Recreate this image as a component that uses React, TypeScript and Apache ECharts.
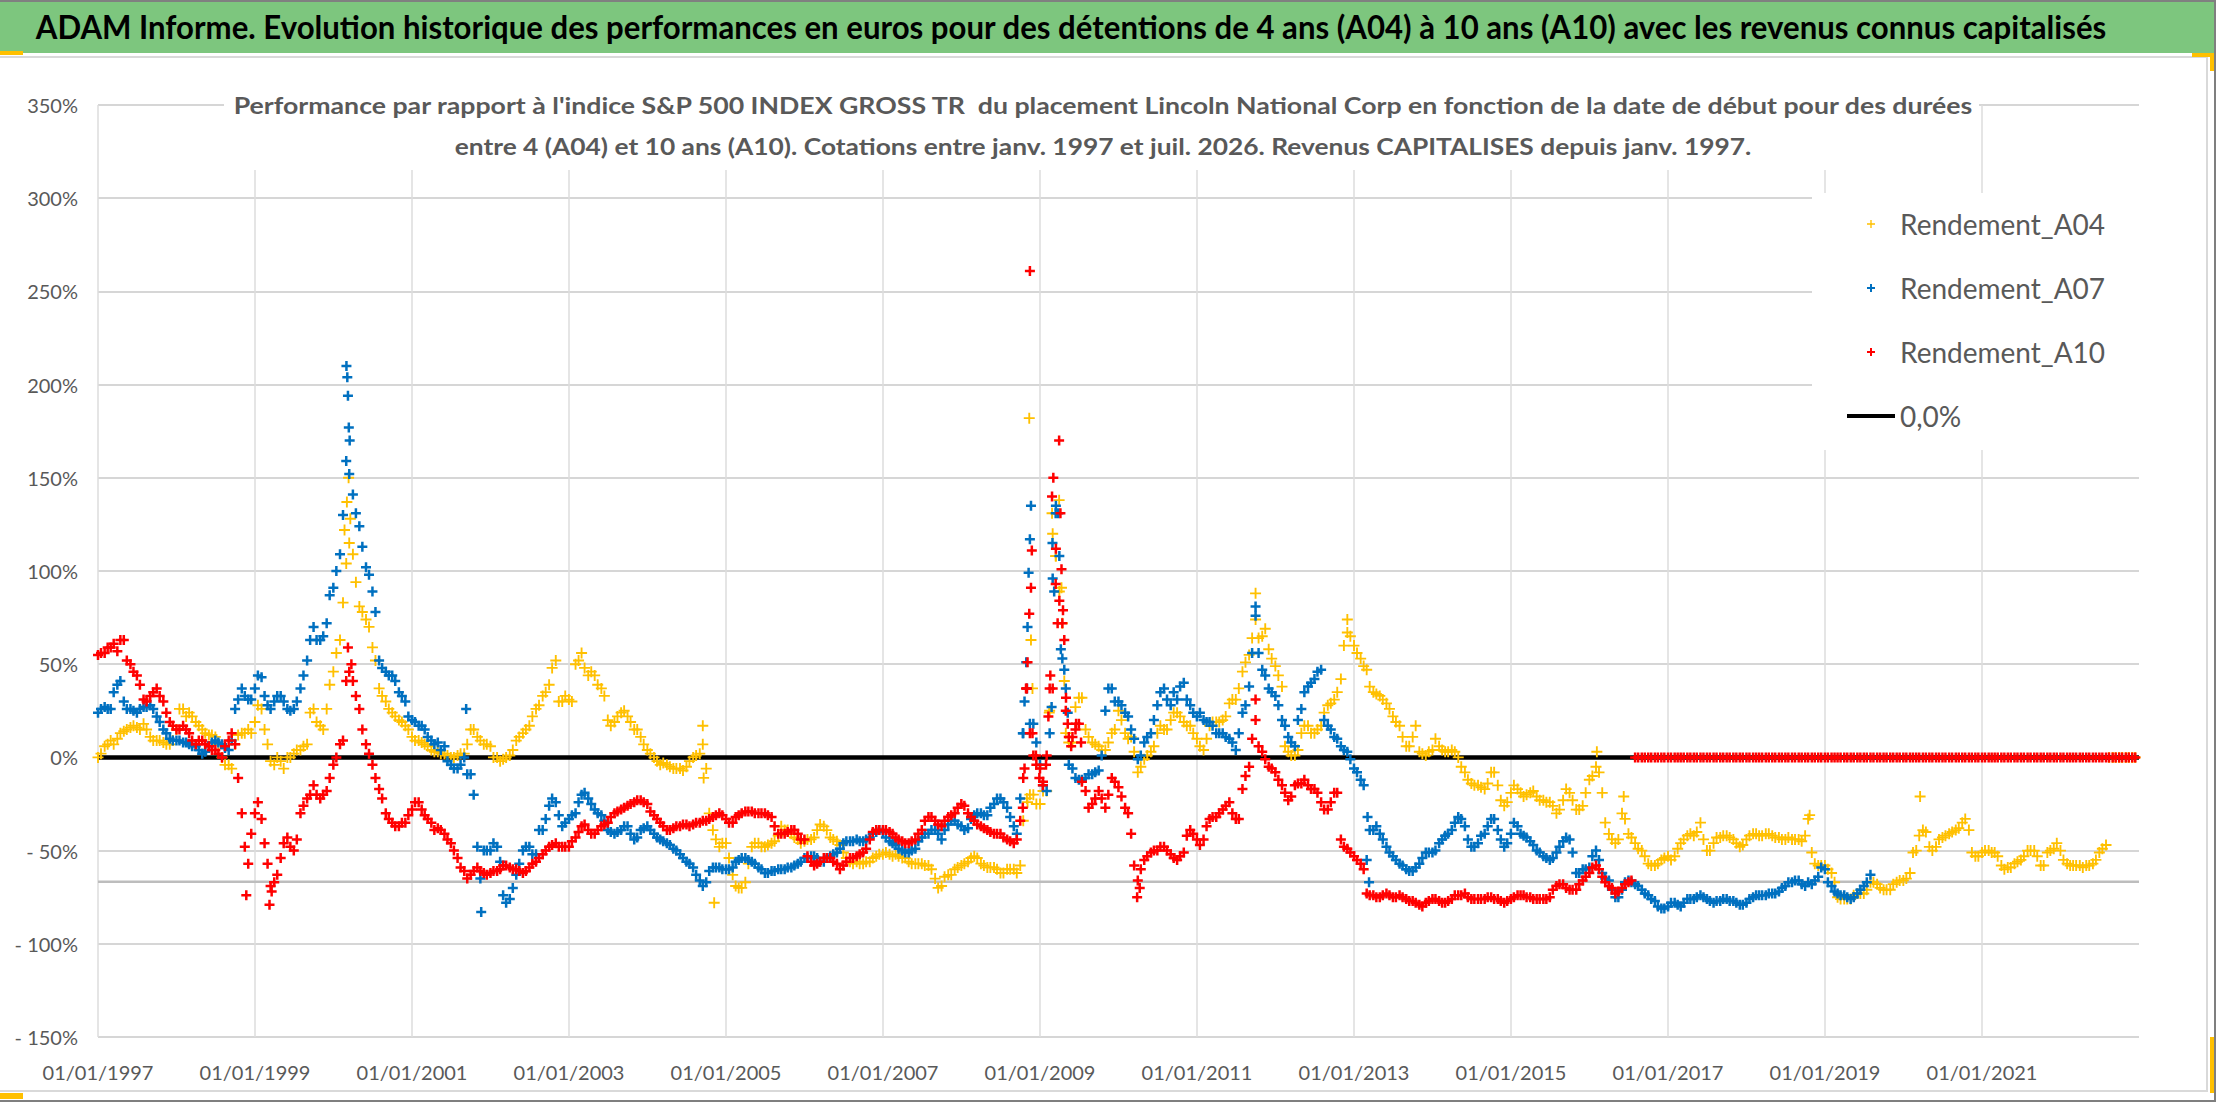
import React, { useEffect, useRef } from "react";
import * as echarts from "echarts";

// ---------- texts ----------
const TITLE =
  "ADAM Informe. Evolution historique des performances en euros pour des détentions de 4 ans (A04) à 10 ans (A10) avec les revenus connus capitalisés";
const SUBTITLE_1 =
  "Performance par rapport à l'indice S&P 500 INDEX GROSS TR  du placement Lincoln National Corp en fonction de la date de début pour des durées";
const SUBTITLE_2 =
  "entre 4 (A04) et 10 ans (A10). Cotations entre janv. 1997 et juil. 2026. Revenus CAPITALISES depuis janv. 1997.";

const SERIES_NAMES = ["Rendement_A04", "Rendement_A07", "Rendement_A10", "0,0%"];
const SERIES_COLORS = ["#FFC000", "#0070C0", "#FF0000", "#000000"];

// ---------- axes ----------
const X_FIRST_YEAR = 1997; // x axis origin: 01/01/1997
const X_SPAN_YEARS = 26; // up to 01/01/2023
const X_TICK_STEP = 2;
const Y_MIN = -150;
const Y_MAX = 350;
const Y_STEP = 50;
const ZERO_LINE = 0;
const GREY_LINE = -66.7;

// ---------- values on the 1st of each month, in % (from janv. 1997) ----------
const START = "1997-01";
const A04 = [
  0, 6, 9, 10, 14, 16, 16, 18, 11, 9, 8, 7,
  15, 26, 24, 19, 15, 12, 11, 0, -4, 7, 13, 15,
  19, 26, 7, -4, -2, 0, 2, 4, 7, 26, 17, 26,
  46, 63, 104, 109, 81, 74, 59, 37, 30, 24, 20, 17,
  11, 9, 7, 4, 3, 2, 0, 1, 2, 15, 11, 7,
  6, 0, -1, 1, 9, 13, 17, 26, 33, 39, 52, 30,
  31, 50, 56, 44, 44, 37, 20, 19, 24, 22, 15, 11,
  4, 0, -4, -4, -6, -6, -5, 0, 2, -6, -39, -48,
  -46, -63, -70, -67, -48, -46, -48, -46, -42, -39, -41, -44,
  -45, -44, -39, -37, -43, -45, -51, -56, -56, -57, -56, -53,
  -52, -52, -52, -54, -56, -57, -57, -58, -65, -69, -63, -60,
  -58, -56, -53, -57, -59, -59, -62, -60, -60, -58, -22, -20,
  -25, -18, 120, 89, 13, 8, 32, 15, 8, 6, 4, 13,
  25, 13, 11, -8, -1, 3, 13, 15, 20, 24, 19, 17,
  10, 4, 17, 19, 20, 29, 31, 46, 55, 74, 65, 58,
  49, 38, 3, 1, 13, 17, 13, 17, 28, 31, 42, 67,
  60, 53, 47, 35, 33, 29, 22, 17, 6, 11, 3, 1,
  4, 6, 3, 4, 0, -8, -14, -15, -17, -8, -15, -26,
  -19, -17, -21, -19, -21, -23, -24, -30, -23, -19, -28, -26,
  -12, -5, -19, -41, -46, -30, -41, -46, -50, -57, -58, -55,
  -53, -53, -46, -42, -42, -35, -50, -46, -43, -42, -44, -48,
  -44, -41, -42, -41, -42, -43, -44, -44, -44, -42, -51, -58,
  -58, -62, -75, -76, -76, -73, -73, -67, -68, -71, -71, -67,
  -66, -62, -50, -39, -48, -48, -43, -41, -39, -35, -39, -53,
  -51, -50, -51, -58, -59, -57, -55, -50, -50, -58, -51, -49,
  -50, -57, -58, -58, -58, -57, -51, -47, 0, 0, 0, 0,
];
const A07 = [
  24, 27, 26, 39, 30, 26, 24, 27, 28, 22, 15, 10,
  9, 8, 7, 6, 2, 6, 9, 7, 4, 26, 37, 31,
  37, 43, 28, 30, 33, 26, 26, 37, 52, 70, 63, 72,
  91, 109, 159, 141, 124, 102, 89, 52, 46, 44, 35, 30,
  20, 17, 15, 9, 8, 6, -4, -6, 0, -9, -48, -50,
  -50, -48, -74, -76, -63, -50, -48, -52, -39, -26, -24, -37,
  -33, -30, -20, -22, -28, -31, -39, -41, -39, -37, -44, -39,
  -37, -41, -44, -46, -49, -52, -56, -59, -66, -67, -59, -59,
  -60, -59, -55, -54, -56, -59, -62, -61, -60, -60, -59, -57,
  -54, -53, -54, -56, -53, -51, -46, -45, -44, -45, -43, -40,
  -40, -45, -47, -50, -51, -49, -43, -41, -39, -44, -36, -34,
  -37, -38, -31, -30, -31, -25, -22, -27, -37, -22, 37, 18,
  -4, -18, 96, 108, 37, -6, -12, -11, -9, -7, 25, 37,
  30, 24, 15, -1, 8, 13, 28, 37, 28, 31, 40, 28,
  22, 20, 19, 13, 13, 10, 4, 24, 38, 76, 47, 37,
  33, 20, 11, 6, 26, 38, 42, 47, 17, 11, 6, 3,
  -6, -12, -55, -39, -41, -48, -53, -57, -60, -61, -57, -51,
  -51, -46, -42, -39, -32, -37, -48, -46, -41, -33, -39, -48,
  -41, -37, -42, -45, -50, -53, -55, -51, -45, -44, -62, -60,
  -59, -50, -62, -66, -75, -71, -66, -68, -71, -74, -77, -81,
  -80, -78, -80, -76, -76, -74, -76, -78, -77, -76, -77, -79,
  -78, -75, -74, -74, -73, -72, -69, -67, -66, -69, -68, -64,
  -60, -69, -73, -74, -76, -73, -69, -63,
];
const A10 = [
  55, 56, 59, 57, 63, 50, 44, 31, 33, 37, 30, 19,
  15, 17, 13, 7, 9, 6, 4, 0, 9, 7, -30, -57,
  -30, -33, -57, -67, -54, -43, -50, -30, -22, -15, -22, -18,
  -4, 7, 41, 41, 26, 7, -4, -17, -30, -35, -37, -35,
  -28, -24, -31, -35, -38, -41, -46, -54, -61, -63, -59, -62,
  -62, -61, -58, -59, -60, -62, -59, -56, -52, -48, -46, -48,
  -48, -43, -37, -39, -41, -37, -35, -30, -28, -26, -24, -23,
  -25, -31, -35, -39, -38, -37, -36, -36, -35, -34, -32, -30,
  -33, -35, -31, -29, -29, -30, -30, -32, -41, -41, -39, -41,
  -44, -56, -57, -54, -54, -57, -58, -54, -53, -51, -44, -39,
  -39, -40, -43, -45, -46, -44, -39, -32, -34, -37, -32, -30,
  -25, -30, -34, -37, -39, -41, -41, -44, -46, -34, 37, 1,
  -6, 1, 37, 84, 25, 11, 18, -18, -25, -18, -27, -11,
  -16, -27, -41, -66, -55, -51, -50, -48, -52, -55, -51, -39,
  -44, -44, -33, -32, -28, -24, -33, -17, -5, 20, 3, -5,
  -8, -15, -23, -15, -14, -15, -17, -24, -28, -19, -44, -49,
  -53, -57, -73, -74, -75, -73, -75, -74, -76, -77, -79, -78,
  -76, -77, -78, -76, -74, -73, -76, -76, -76, -75, -76, -78,
  -76, -74, -74, -75, -76, -76, -75, -69, -68, -71, -71, -66,
  -62, -58, -64, -69, -73, -70, -67, 0, 0, 0, 0, 0,
  0, 0, 0, 0, 0, 0, 0, 0, 0, 0, 0, 0,
  0, 0, 0, 0, 0, 0, 0, 0, 0, 0, 0, 0,
  0, 0, 0, 0, 0, 0, 0, 0, 0, 0, 0, 0,
  0, 0, 0, 0, 0, 0, 0, 0, 0, 0, 0, 0,
  0, 0, 0, 0, 0, 0, 0, 0, 0, 0, 0, 0,
  0, 0, 0, 0, 0, 0, 0, 0, 0, 0, 0, 0,
];

// ---------- values on the 15th of each month, in % (from janv. 1997) ----------
const A04_MID = [
  2, 7, 7, 13, 15, 17, 15, 15, 9, 9, 7, 9,
  26, 22, 22, 17, 13, 12, 7, -4, -6, 12, 13, 13,
  28, 15, -2, 0, -6, 0, 4, 6, 24, 19, 15, 39,
  56, 83, 115, 94, 78, 70, 52, 33, 26, 22, 19, 15,
  9, 8, 6, 3, 2, 1, 0, 2, 7, 15, 9, 7,
  0, -2, 0, 4, 11, 15, 22, 28, 35, 48, 30, 33,
  30, 52, 48, 46, 39, 33, 17, 22, 25, 19, 15, 7,
  2, -2, -3, -5, -6, -7, -2, 1, 7, -30, -44, -46,
  -54, -69, -70, -57, -46, -48, -47, -45, -37, -39, -43, -46,
  -44, -43, -36, -39, -44, -47, -54, -57, -57, -56, -54, -52,
  -51, -53, -53, -54, -57, -57, -58, -60, -70, -64, -63, -59,
  -57, -54, -54, -58, -59, -60, -62, -60, -62, -34, -20, -25,
  -18, 25, 108, 72, 8, 27, 32, 11, 7, 4, 8, 15,
  20, 10, 3, -5, 1, 6, 17, 15, 24, 22, 17, 13,
  6, 10, 19, 19, 22, 31, 37, 51, 64, 64, 69, 53,
  44, 6, 1, 4, 17, 13, 15, 24, 29, 35, 60, 65,
  56, 49, 38, 34, 31, 26, 19, 11, 6, 17, 2, 3,
  10, 4, 3, 3, -5, -12, -15, -16, -14, -8, -23, -24,
  -15, -19, -20, -18, -23, -24, -26, -28, -17, -23, -28, -19,
  -10, -8, -35, -44, -44, -33, -43, -49, -53, -58, -57, -54,
  -55, -49, -44, -41, -40, -44, -50, -43, -42, -43, -46, -47,
  -42, -41, -42, -41, -43, -44, -43, -44, -45, -33, -57, -58,
  -60, -67, -76, -76, -74, -73, -71, -67, -70, -71, -68, -66,
  -65, -51, -42, -40, -50, -44, -42, -40, -38, -33, -51, -53,
  -50, -51, -53, -60, -59, -56, -53, -50, -53, -58, -50, -46,
  -55, -58, -58, -59, -58, -55, -49, 0, 0, 0, 0, 0,
];
const A07_MID = [
  26, 26, 35, 41, 26, 25, 26, 27, 26, 19, 13, 9,
  9, 8, 6, 4, 3, 8, 8, 5, 9, 31, 33, 31,
  44, 33, 26, 33, 30, 25, 30, 44, 63, 63, 65, 87,
  100, 130, 152, 131, 113, 98, 78, 48, 44, 41, 33, 22,
  19, 17, 11, 7, 4, -2, -6, -4, -9, -20, -65, -50,
  -46, -56, -78, -70, -57, -48, -52, -39, -33, -22, -31, -35,
  -31, -24, -19, -25, -30, -34, -40, -40, -37, -41, -43, -38,
  -39, -43, -45, -47, -50, -54, -57, -63, -69, -61, -59, -60,
  -60, -56, -54, -55, -57, -60, -62, -61, -60, -59, -58, -56,
  -54, -53, -56, -54, -52, -49, -45, -45, -45, -44, -41, -39,
  -43, -46, -49, -51, -50, -45, -41, -39, -41, -39, -34, -36,
  -39, -33, -30, -31, -27, -22, -24, -32, -41, 13, 18, 8,
  -15, 13, 131, 53, -4, -11, -12, -9, -8, 1, 37, 30,
  28, 22, 10, 1, 11, 20, 35, 31, 35, 38, 31, 24,
  24, 19, 17, 13, 11, 8, 13, 28, 56, 56, 44, 35,
  28, 17, 8, 20, 35, 40, 46, 20, 15, 10, 4, -1,
  -8, -15, -39, -37, -44, -51, -55, -58, -61, -59, -54, -51,
  -50, -44, -41, -35, -33, -44, -48, -42, -37, -33, -44, -46,
  -35, -41, -43, -47, -51, -54, -54, -48, -43, -51, -62, -60,
  -53, -55, -65, -71, -75, -67, -67, -69, -73, -76, -80, -81,
  -78, -79, -78, -76, -75, -75, -77, -77, -76, -77, -78, -79,
  -76, -74, -74, -73, -73, -70, -67, -66, -68, -67, -66, -59,
  -67, -72, -74, -75, -75, -71, -67,
];
const A10_MID = [
  56, 59, 61, 63, 52, 46, 39, 30, 35, 33, 24, 17,
  15, 15, 9, 9, 7, 4, 2, 6, 13, -11, -48, -41,
  -24, -46, -69, -63, -46, -48, -44, -26, -20, -20, -20, -11,
  0, 9, 46, 33, 15, 2, -11, -22, -33, -37, -35, -31,
  -24, -28, -33, -39, -39, -44, -50, -59, -65, -61, -61, -63,
  -61, -60, -58, -60, -61, -61, -57, -54, -50, -47, -48, -48,
  -45, -40, -36, -41, -39, -36, -32, -29, -27, -25, -23, -24,
  -29, -33, -37, -39, -37, -36, -37, -35, -34, -33, -31, -31,
  -35, -32, -30, -29, -30, -30, -31, -37, -41, -40, -39, -44,
  -53, -58, -56, -54, -56, -60, -56, -54, -52, -49, -40, -39,
  -39, -41, -44, -46, -45, -41, -34, -32, -36, -34, -31, -27,
  -26, -32, -36, -38, -40, -41, -43, -45, -44, -11, 13, -4,
  -13, 37, 93, 72, 11, 15, -13, -27, -22, -22, -20, -13,
  -21, -30, -58, -60, -53, -50, -48, -50, -54, -53, -42, -41,
  -47, -37, -32, -30, -26, -30, -33, -10, 10, 6, -1, -6,
  -12, -19, -21, -14, -12, -17, -19, -28, -24, -19, -48, -51,
  -55, -60, -74, -75, -74, -74, -75, -75, -77, -78, -80, -77,
  -76, -78, -77, -74, -74, -75, -76, -76, -75, -76, -77, -77,
  -75, -74, -75, -76, -76, -76, -71, -68, -70, -71, -68, -64,
  -59, -60, -67, -70, -72, -68, -66, 0, 0, 0, 0, 0,
  0, 0, 0, 0, 0, 0, 0, 0, 0, 0, 0, 0,
  0, 0, 0, 0, 0, 0, 0, 0, 0, 0, 0, 0,
  0, 0, 0, 0, 0, 0, 0, 0, 0, 0, 0, 0,
  0, 0, 0, 0, 0, 0, 0, 0, 0, 0, 0, 0,
  0, 0, 0, 0, 0, 0, 0, 0, 0, 0, 0, 0,
  0, 0, 0, 0, 0, 0, 0, 0, 0, 0, 0, 0,
];

// ---------- isolated daily points (spikes / outliers) ----------
const A04_EXTRA: [string, number][] = [
  ["2000-02-22", 122], ["2000-03-04", 137], ["2000-03-12", 150], ["2000-03-20", 128],
  ["2004-09-15", 17], ["2004-09-19", -11], ["2004-11-07", -78],
  ["2008-11-04", -24], ["2008-11-12", 182], ["2008-11-20", 63], ["2008-11-27", 37],
  ["2009-02-13", 24], ["2009-02-26", 131], ["2009-03-16", 108], ["2009-03-31", 138],
  ["2009-04-11", 91], ["2009-04-24", 41],
  ["2011-10-01", 88], ["2012-12-01", 74],
  ["2016-02-05", 3], ["2016-06-09", -21],
  ["2018-10-22", -31], ["2020-03-19", -21],
];
const A07_EXTRA: [string, number][] = [
  ["2000-03-02", 210], ["2000-03-06", 204], ["2000-03-09", 194], ["2000-03-13", 177], ["2000-03-17", 170],
  ["2001-09-10", 26], ["2001-11-19", -83],
  ["2008-10-13", 13], ["2008-10-21", 30], ["2008-10-29", 51], ["2008-11-04", 70], ["2008-11-09", 99],
  ["2008-11-15", 117], ["2008-11-20", 135],
  ["2009-02-24", 27], ["2009-02-28", 115], ["2009-03-08", 89], ["2009-03-16", 135], ["2009-03-27", 131],
  ["2009-04-08", 58], ["2009-04-24", 47], ["2009-05-10", 24],
  ["2011-10-01", 81],
  ["2013-03-05", -32], ["2013-03-12", -67],
];
const A10_EXTRA: [string, number][] = [
  ["1998-11-22", -74], ["1999-03-10", -79], ["1999-03-20", -72], ["2000-03-09", 59], ["2000-03-25", 50],
  ["2008-10-13", -27], ["2008-10-21", -6], ["2008-10-28", 37], ["2008-11-04", 51], ["2008-11-12", 77],
  ["2008-11-15", 261], ["2008-11-20", 91], ["2008-11-24", 111], ["2008-11-27", 13], ["2008-12-13", 1],
  ["2008-12-29", -11], ["2009-01-14", -15], ["2009-01-29", -4], ["2009-02-09", 22], ["2009-02-18", 44],
  ["2009-02-26", 140], ["2009-03-04", 150], ["2009-03-16", 112], ["2009-03-24", 72], ["2009-03-31", 170],
  ["2009-04-06", 131], ["2009-04-11", 101], ["2009-04-18", 79], ["2009-04-24", 63], ["2009-05-02", 32],
  ["2009-05-10", 18], ["2009-05-26", 6], ["2009-06-18", 18], ["2009-07-11", 8],
  ["2010-03-29", -75], ["2010-04-10", -70],
  ["2011-10-01", 31],
];

// ---------- helpers ----------
const ORIGIN = Date.UTC(X_FIRST_YEAR, 0, 1);
const YEAR_MS = 365.25 * 86400000;
const dateToX = (y: number, m: number, d: number) => (Date.UTC(y, m, d) - ORIGIN) / YEAR_MS;

function monthlyPoints(start: string, values: number[], day: number) {
  const [sy, sm] = start.split("-").map(Number);
  return values.map((v, i) => {
    const idx = sm - 1 + i;
    return [dateToX(sy + Math.floor(idx / 12), idx % 12, day), v];
  });
}
function extraPoints(list: [string, number][]) {
  return list.map(([d, v]) => {
    const [y, m, dd] = d.split("-").map(Number);
    return [dateToX(y, m - 1, dd), v];
  });
}

const PLUS_BOLD = "path://M3.75,0H6.25V3.75H10V6.25H6.25V10H3.75V6.25H0V3.75H3.75Z";
const PLUS_THIN = "path://M4.15,0H5.85V4.15H10V5.85H5.85V10H4.15V5.85H0V4.15H4.15Z";
const LINE_ICON = "path://M0,0H48V4H0Z";

const FONT = "Lato, 'Open Sans', sans-serif";

function fitScale(text: string, font: string, target: number) {
  const ctx = document.createElement("canvas").getContext("2d");
  if (!ctx) return 1;
  ctx.font = font;
  const w = ctx.measureText(text).width;
  return w > 0 ? target / w : 1;
}

export default function App() {
  const ref = useRef<HTMLDivElement>(null);

  useEffect(() => {
    if (!ref.current) return;
    const chart = echarts.init(ref.current, null, { renderer: "svg" });

    const sxTitle = fitScale(TITLE, "bold 32px Lato", 2072);
    const sxSub1 = fitScale(SUBTITLE_1, "bold 23px Lato", 1743);
    const sxSub2 = fitScale(SUBTITLE_2, "bold 23px Lato", 1298);

    const scatter = (name: string, color: string, symbol: string, size: number, pts: number[][]) => ({
      name,
      type: "scatter",
      data: pts,
      symbol,
      symbolSize: size,
      itemStyle: { color, opacity: 1 },
      z: 3,
      silent: true,
    });

    const textEl = (text: string, x: number, y: number, sx: number, size: number, fill: string, z: number) => ({
      type: "text",
      x,
      y,
      scaleX: sx,
      z,
      style: {
        text,
        fill,
        fontSize: size,
        fontWeight: "bold",
        fontFamily: "Lato",
        textAlign: "center",
        textVerticalAlign: "middle",
      },
    });
    const box = (x: number, y: number, w: number, h: number, fill: string, z: number) => ({
      type: "rect",
      shape: { x, y, width: w, height: h },
      style: { fill },
      z,
    });

    const option: any = {
      animation: false,
      backgroundColor: "#ffffff",
      textStyle: { fontFamily: FONT },
      grid: { left: 98, top: 105, right: 77, bottom: 65, containLabel: false, outerBoundsMode: "none" },
      xAxis: {
        type: "value",
        min: 0,
        max: X_SPAN_YEARS,
        interval: X_TICK_STEP,
        axisLine: { show: false },
        axisTick: { show: false },
        axisLabel: {
          formatter: (v: number) => "01/01/" + (X_FIRST_YEAR + v),
          fontSize: 20,
          fontFamily: FONT,
          color: "#595959",
          margin: 25,
          showMaxLabel: false,
        },
        splitLine: { show: true, showMaxLine: false, lineStyle: { color: "#DCDCDC", width: 1.5 } },
      },
      yAxis: {
        type: "value",
        min: Y_MIN,
        max: Y_MAX,
        interval: Y_STEP,
        axisLine: { show: false },
        axisTick: { show: false },
        axisLabel: {
          formatter: (v: number) => (v < 0 ? "- " + Math.abs(v) + "%" : v + "%"),
          fontSize: 20,
          fontFamily: FONT,
          color: "#595959",
          margin: 20,
        },
        splitLine: { show: true, lineStyle: { color: "#D6D6D6", width: 2 } },
      },
      legend: {
        orient: "vertical",
        left: 1812,
        top: 193,
        itemWidth: 48,
        itemHeight: 8,
        itemGap: 30,
        padding: [14, 39, 17, 35],
        backgroundColor: "#ffffff",
        selectedMode: false,
        textStyle: { fontFamily: FONT, fontSize: 28, color: "#595959", lineHeight: 34 },
        data: [
          { name: SERIES_NAMES[0], icon: PLUS_THIN },
          { name: SERIES_NAMES[1], icon: PLUS_BOLD },
          { name: SERIES_NAMES[2], icon: PLUS_BOLD },
          { name: SERIES_NAMES[3], icon: LINE_ICON },
        ],
      },
      graphic: [
        box(0, 0, 2216, 2, "#808080", 50),
        box(0, 2, 2216, 51, "#7DC67E", 50),
        box(0, 51, 23, 4, "#FFC000", 51),
        box(0, 56, 2208, 2, "#D9D9D9", 50),
        box(2206, 56, 2, 1036, "#D9D9D9", 50),
        box(0, 1090, 2208, 2, "#D9D9D9", 50),
        box(2192, 53, 22, 4, "#FFC000", 51),
        box(2210, 53, 4, 18, "#FFC000", 51),
        box(2210, 1037, 4, 56, "#FFC000", 51),
        box(0, 1093, 23, 6, "#FFC000", 51),
        box(2214, 0, 2, 1102, "#7F7F7F", 50),
        box(0, 1100, 2216, 2, "#7F7F7F", 50),
        textEl(TITLE, 1071, 27, sxTitle, 32, "#000000", 60),
        box(224, 78, 1755, 92, "#ffffff", 40),
        textEl(SUBTITLE_1, 1103, 105, sxSub1, 23, "#595959", 41),
        textEl(SUBTITLE_2, 1103, 146, sxSub2, 23, "#595959", 41),
      ],
      series: [
        {
          name: "ref",
          type: "line",
          data: [
            [0, GREY_LINE],
            [X_SPAN_YEARS, GREY_LINE],
          ],
          symbol: "none",
          lineStyle: { color: "#BDBDBD", width: 2.5 },
          z: 1,
          silent: true,
        },
        {
          name: SERIES_NAMES[3],
          type: "line",
          data: [
            [0, ZERO_LINE],
            [X_SPAN_YEARS, ZERO_LINE],
          ],
          symbol: "none",
          lineStyle: { color: SERIES_COLORS[3], width: 4.5 },
          itemStyle: { color: SERIES_COLORS[3] },
          z: 2,
          silent: true,
        },
        scatter(SERIES_NAMES[0], SERIES_COLORS[0], PLUS_THIN, 11, [
          ...monthlyPoints(START, A04, 1),
          ...monthlyPoints(START, A04_MID, 15),
          ...extraPoints(A04_EXTRA),
        ]),
        scatter(SERIES_NAMES[1], SERIES_COLORS[1], PLUS_BOLD, 10, [
          ...monthlyPoints(START, A07, 1),
          ...monthlyPoints(START, A07_MID, 15),
          ...extraPoints(A07_EXTRA),
        ]),
        scatter(SERIES_NAMES[2], SERIES_COLORS[2], PLUS_BOLD, 10, [
          ...monthlyPoints(START, A10, 1),
          ...monthlyPoints(START, A10_MID, 15),
          ...extraPoints(A10_EXTRA),
        ]),
      ],
    };

    chart.setOption(option);
    return () => chart.dispose();
  }, []);

  return (
    <div
      ref={ref}
      style={{ position: "fixed", left: 0, top: 0, width: 2216, height: 1102, background: "#ffffff" }}
    />
  );
}
